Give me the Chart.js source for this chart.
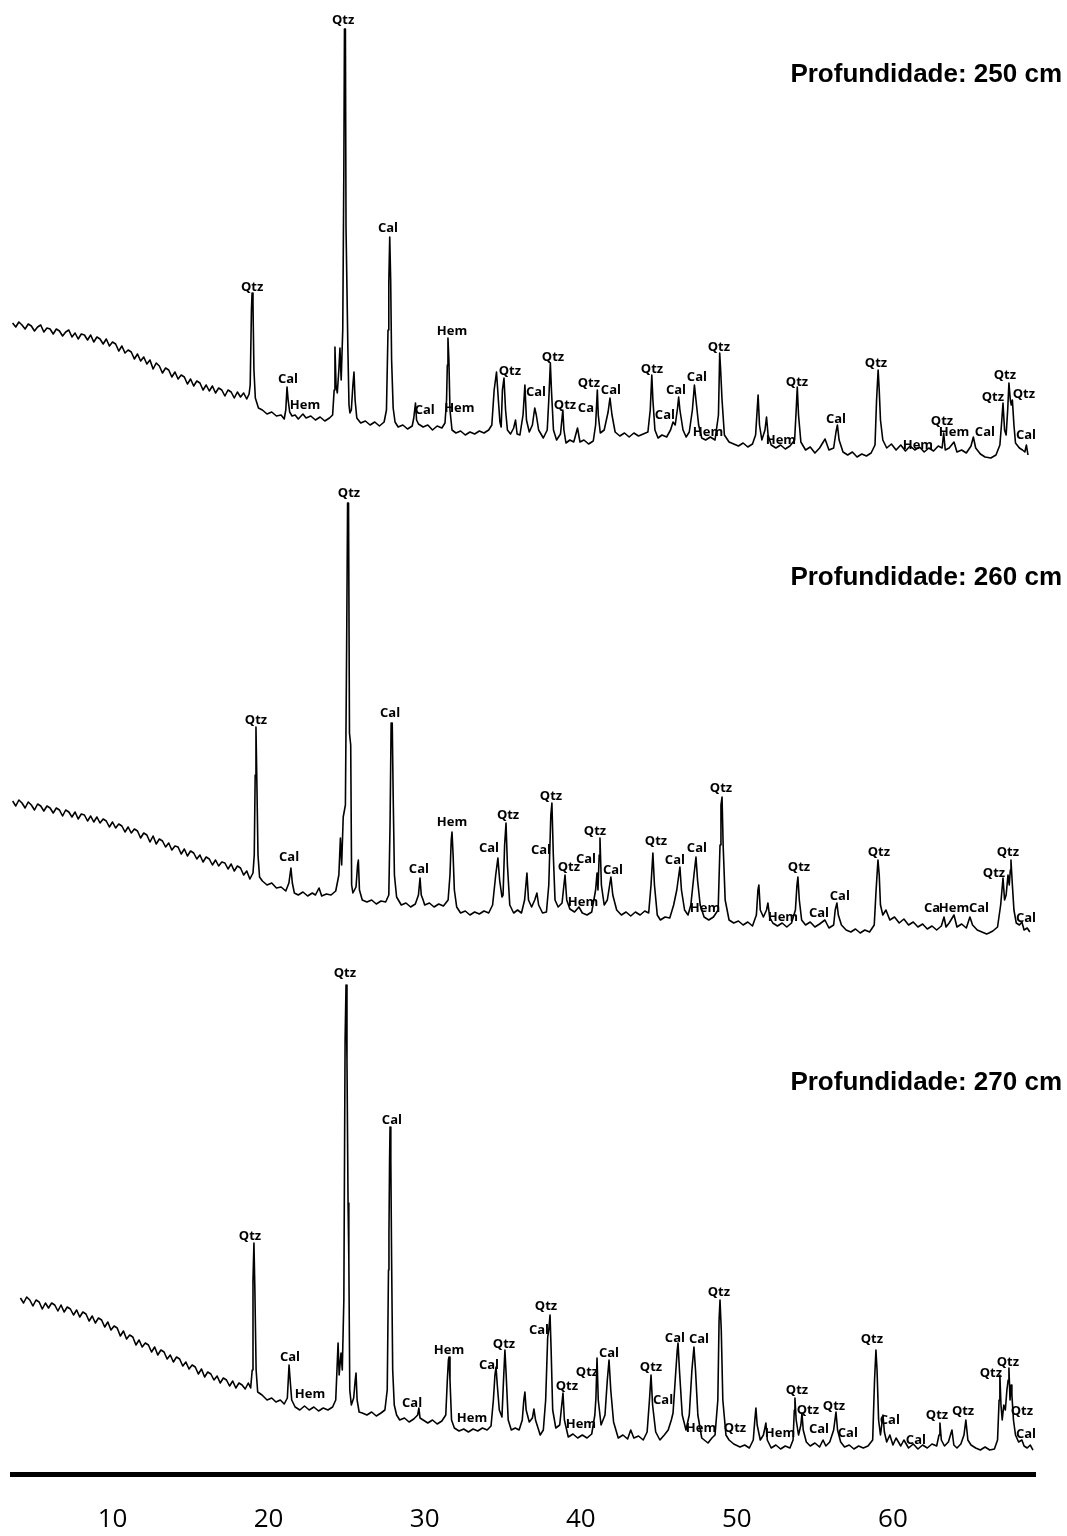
<!DOCTYPE html>
<html>
<head>
<meta charset="utf-8">
<script src="https://cdn.jsdelivr.net/npm/chart.js@4/dist/chart.umd.min.js"></script>
<style>
  html, body { margin: 0; padding: 0; background: #fff; }
  canvas { display: block; }
</style>
</head>
<body>
<canvas id="xrd" width="1067" height="1536"></canvas>
<script>
//----- 2theta ticks -----//
const tickValues = [10, 20, 30, 40, 50, 60];

//----- sample depths (cm) -----//
const depths = [250, 260, 270];

//----- scans: [2theta, counts] -----//
const scan250 = [[3.6,147],[3.8,143],[4.0,148],[4.2,145],[4.4,141],[4.6,146],[4.8,144],[5.0,139],[5.2,143],[5.4,145],[5.6,138],[5.8,142],[6.0,141],[6.2,136],[6.4,141],[6.6,139],[6.8,134],[7.0,138],[7.2,140],[7.4,133],[7.6,137],[7.8,131],[8.0,136],[8.2,135],[8.4,130],[8.6,135],[8.8,128],[9.0,133],[9.2,131],[9.4,126],[9.6,131],[9.8,124],[10.0,128],[10.2,126],[10.4,119],[10.6,124],[10.8,117],[11.0,120],[11.2,118],[11.4,111],[11.6,116],[11.8,109],[12.0,113],[12.2,106],[12.4,110],[12.6,101],[12.8,107],[13.0,104],[13.2,97],[13.4,102],[13.6,100],[13.8,93],[14.0,98],[14.2,91],[14.4,95],[14.6,93],[14.8,86],[15.0,91],[15.2,84],[15.4,89],[15.6,87],[15.8,80],[16.0,85],[16.2,79],[16.4,84],[16.6,77],[16.8,82],[17.0,80],[17.2,74],[17.4,80],[17.6,78],[17.8,72],[18.0,78],[18.2,73],[18.4,77],[18.6,71],[18.75,76],
  [18.82,85],[18.9,160],[18.94,177],[19.0,165],[19.06,100],[19.15,72],[19.35,62],[19.6,60],[19.9,56],[20.2,58],[20.5,54],[20.8,55],[21.0,51],[21.1,60],[21.18,83],[21.25,70],[21.35,58],[21.5,54],[21.7,55],[21.9,51],[22.2,56],[22.4,52],[22.7,54],[23.0,50],[23.3,53],[23.6,49],[23.9,52],[24.1,55],
  [24.2,80],[24.25,123],[24.32,85],[24.4,77],[24.5,100],[24.57,122],[24.65,90],[24.75,140],[24.82,300],[24.86,441],[24.92,441],[24.96,242],[25.02,242],[25.08,120],[25.15,65],[25.21,57],[25.3,60],[25.4,85],[25.47,98],[25.54,70],[25.65,52],[25.9,47],[26.2,49],[26.5,45],[26.8,48],[27.1,44],[27.4,48],
  [27.55,60],[27.65,140],[27.7,187],[27.76,233],[27.82,190],[27.88,110],[27.98,62],[28.1,48],[28.3,43],[28.6,45],[28.9,41],[29.2,44],[29.3,52],[29.41,67],[29.48,50],[29.6,46],[29.9,43],[30.2,45],[30.5,40],[30.8,44],[31.1,42],[31.3,47],
  [31.4,70],[31.45,105],[31.49,132],[31.55,110],[31.62,60],[31.75,40],[32.0,37],[32.3,39],[32.6,35],[32.9,38],[33.2,36],[33.5,39],[33.8,37],[34.1,40],[34.3,45],
  [34.45,80],[34.6,98],[34.72,70],[34.82,48],[34.9,43],[34.98,80],[35.08,92],[35.18,60],[35.3,40],[35.5,36],[35.7,42],[35.82,50],[35.92,36],[36.1,35],[36.3,55],[36.42,85],[36.52,50],[36.7,38],[36.9,45],[37.05,62],[37.15,55],[37.3,40],[37.6,32],[37.85,40],
  [37.95,70],[38.05,107],[38.12,80],[38.25,40],[38.45,30],[38.7,36],[38.85,60],[38.92,40],[39.05,27],[39.3,30],[39.55,28],[39.79,42],[39.95,28],[40.2,30],[40.5,26],[40.8,29],[40.95,45],[41.06,80],[41.12,55],[41.25,37],[41.5,40],[41.75,58],[41.87,72],[42.0,55],[42.2,38],[42.5,34],[42.8,37],[43.1,33],[43.4,37],[43.7,34],[44.0,36],[44.3,38],[44.45,60],[44.55,95],[44.62,70],[44.75,40],[44.95,32],[45.2,35],[45.5,33],[45.75,40],[45.91,48],[46.05,45],[46.2,62],[46.27,73],[46.35,60],[46.55,40],[46.75,33],[46.95,38],[47.15,60],[47.28,85],[47.38,70],[47.55,45],[47.75,32],[48.0,30],[48.3,33],[48.6,30],[48.82,55],[48.9,117],[48.96,100],[49.05,70],[49.2,35],[49.5,28],[49.8,26],[50.1,24],[50.4,27],[50.7,23],[51.0,26],[51.2,35],[51.3,60],[51.36,75],[51.45,45],[51.6,30],[51.8,40],[51.9,53],[52.0,35],[52.2,25],[52.5,22],[52.8,25],[53.1,21],[53.4,24],[53.7,30],[53.8,60],[53.87,83],[53.95,55],[54.1,28],[54.4,20],[54.7,23],[55.0,17],[55.3,22],[55.65,31],[55.9,20],[56.2,22],[56.35,38],[56.44,45],[56.55,30],[56.8,18],[57.1,15],[57.4,18],[57.7,13],[58.0,16],[58.3,14],[58.6,17],[58.85,25],[58.95,70],[59.05,100],[59.12,80],[59.2,50],[59.35,30],[59.6,22],[59.9,26],[60.2,20],[60.5,25],[60.8,19],[61.1,24],[61.4,20],[61.7,23],[62.0,18],[62.3,22],[62.6,19],[62.9,24],[63.15,22],[63.25,37],[63.35,20],[63.6,22],[63.91,28],[64.1,18],[64.4,20],[64.7,17],[65.0,24],[65.15,33],[65.3,22],[65.6,16],[65.9,13],[66.27,12],[66.6,15],[66.85,25],[66.95,45],[67.05,67],[67.15,40],[67.25,35],[67.35,60],[67.43,87],[67.52,70],[67.58,65],[67.65,70],[67.75,45],[67.85,27],[68.1,22],[68.3,20],[68.45,18],[68.55,25],[68.65,15]];

const scan260 = [[3.6,144],[3.8,139],[4.0,145],[4.2,142],[4.4,137],[4.6,143],[4.8,140],[5.0,135],[5.2,141],[5.4,139],[5.6,134],[5.8,139],[6.0,137],[6.2,132],[6.4,137],[6.6,135],[6.8,129],[7.0,135],[7.2,133],[7.4,128],[7.6,133],[7.8,126],[8.0,131],[8.2,130],[8.4,124],[8.6,129],[8.8,123],[9.0,128],[9.2,122],[9.4,126],[9.6,124],[9.8,118],[10.0,123],[10.2,117],[10.4,121],[10.6,119],[10.8,113],[11.0,118],[11.2,112],[11.4,116],[11.6,114],[11.8,107],[12.0,112],[12.2,110],[12.4,103],[12.6,109],[12.8,101],[13.0,106],[13.2,104],[13.4,98],[13.6,102],[13.8,95],[14.0,99],[14.2,98],[14.4,91],[14.6,96],[14.8,89],[15.0,94],[15.2,92],[15.4,86],[15.6,90],[15.8,83],[16.0,88],[16.2,86],[16.4,80],[16.6,85],[16.8,79],[17.0,83],[17.2,82],[17.4,76],[17.6,81],[17.8,74],[18.0,79],[18.2,77],[18.4,70],[18.6,74],[18.8,66],[19.0,72],
  [19.08,90],[19.14,170],[19.19,218],[19.25,160],[19.32,90],[19.42,68],[19.6,64],[19.9,60],[20.2,62],[20.5,57],[20.8,58],[21.1,54],[21.3,62],[21.43,77],[21.52,62],[21.65,52],[21.9,50],[22.2,53],[22.5,49],[22.8,52],[23.0,50],[23.23,57],[23.4,49],[23.7,51],[24.0,50],[24.3,54],
  [24.5,70],[24.6,107],[24.68,80],[24.78,128],[24.92,140],[25.0,300],[25.06,442],[25.12,442],[25.18,212],[25.26,200],[25.32,60],[25.4,52],[25.6,58],[25.7,80],[25.75,85],[25.82,55],[26.0,45],[26.3,43],[26.6,45],[26.9,41],[27.2,44],[27.5,43],[27.7,50],
  [27.78,120],[27.85,222],[27.92,222],[27.98,150],[28.06,70],[28.2,48],[28.5,40],[28.8,42],[29.1,38],[29.4,41],[29.6,50],[29.7,67],[29.78,50],[29.9,45],[30.0,40],[30.3,42],[30.6,38],[30.9,41],[31.2,39],[31.5,45],[31.62,70],[31.7,105],[31.75,113],[31.82,90],[31.9,55],[32.05,38],[32.3,32],[32.6,34],[32.9,30],[33.2,33],[33.5,31],[33.8,34],[34.1,32],[34.35,40],[34.55,70],[34.69,87],[34.8,65],[34.95,48],[35.02,50],[35.12,100],[35.21,122],[35.3,80],[35.45,40],[35.7,32],[35.95,35],[36.2,32],[36.4,45],[36.55,72],[36.65,45],[36.85,38],[37.05,45],[37.19,52],[37.3,40],[37.55,32],[37.8,33],
  [37.95,60],[38.08,130],[38.15,142],[38.24,90],[38.35,45],[38.55,38],[38.8,42],[38.92,60],[38.99,70],[39.1,45],[39.3,36],[39.6,33],[39.88,38],[40.1,32],[40.4,30],[40.7,33],[40.95,55],[41.04,72],[41.1,55],[41.18,90],[41.23,107],[41.32,60],[41.5,40],[41.7,45],[41.85,60],[41.93,68],[42.05,50],[42.3,35],[42.6,30],[42.9,33],[43.2,29],[43.5,33],[43.8,30],[44.1,34],[44.35,32],[44.5,60],[44.62,92],[44.72,60],[44.9,30],[45.1,25],[45.4,28],[45.7,27],[45.95,40],[46.15,55],[46.28,70],[46.35,78],[46.45,55],[46.65,35],[46.87,30],[47.05,40],[47.25,70],[47.38,88],[47.48,65],[47.65,40],[47.9,28],[48.2,25],[48.5,28],[48.8,35],[48.92,100],[48.98,140],[49.05,148],[49.12,100],[49.25,45],[49.5,25],[49.8,22],[50.1,24],[50.4,20],[50.7,23],[51.0,19],[51.25,30],[51.35,55],[51.41,60],[51.5,35],[51.7,28],[51.9,35],[51.99,42],[52.1,28],[52.3,22],[52.6,19],[52.9,22],[53.2,18],[53.5,22],[53.75,35],[53.85,60],[53.91,68],[54.0,45],[54.15,25],[54.4,20],[54.7,23],[55.0,18],[55.3,21],[55.64,25],[55.9,17],[56.2,20],[56.3,35],[56.41,42],[56.5,30],[56.7,20],[57.0,15],[57.3,13],[57.6,16],[57.9,12],[58.2,15],[58.5,13],[58.8,20],[58.92,55],[59.04,85],[59.12,70],[59.2,40],[59.35,30],[59.55,35],[59.8,25],[60.1,28],[60.4,22],[60.7,26],[61.0,20],[61.3,23],[61.6,18],[61.9,21],[62.2,16],[62.5,19],[62.8,15],[63.1,19],[63.27,28],[63.4,18],[63.6,22],[63.91,30],[64.1,18],[64.4,21],[64.7,17],[64.93,28],[65.1,20],[65.4,15],[65.7,13],[66.0,11],[66.15,12],[66.4,14],[66.7,18],[66.9,40],[67.05,67],[67.15,45],[67.25,50],[67.37,70],[67.45,60],[67.52,75],[67.56,85],[67.65,60],[67.75,35],[67.9,22],[68.1,20],[68.26,23],[68.4,15],[68.6,17],[68.77,13]];

const scan270 = [[4.1,162],[4.3,157],[4.5,163],[4.7,160],[4.9,154],[5.1,160],[5.3,158],[5.5,151],[5.7,157],[5.9,152],[6.1,157],[6.3,155],[6.5,149],[6.7,155],[6.9,148],[7.1,153],[7.3,151],[7.5,145],[7.7,150],[7.9,143],[8.1,148],[8.3,146],[8.5,139],[8.7,144],[8.9,137],[9.1,142],[9.3,140],[9.5,133],[9.7,138],[9.9,130],[10.1,134],[10.3,132],[10.5,124],[10.7,129],[10.9,121],[11.1,125],[11.3,123],[11.5,115],[11.7,120],[11.9,113],[12.1,117],[12.3,115],[12.5,108],[12.7,113],[12.9,105],[13.1,110],[13.3,108],[13.5,101],[13.7,105],[13.9,98],[14.1,103],[14.3,101],[14.5,94],[14.7,98],[14.9,91],[15.1,95],[15.3,93],[15.5,86],[15.7,91],[15.9,83],[16.1,88],[16.3,86],[16.5,80],[16.7,84],[16.9,77],[17.1,82],[17.3,80],[17.5,74],[17.7,79],[17.9,72],[18.1,77],[18.3,75],[18.5,71],[18.7,77],[18.85,72],
  [18.95,90],[19.0,180],[19.06,217],[19.12,170],[19.2,90],[19.3,68],[19.58,65],[19.9,60],[20.2,62],[20.47,58],[20.75,60],[21.0,56],[21.2,62],[21.31,95],[21.38,80],[21.48,60],[21.7,53],[22.0,50],[22.3,54],[22.6,50],[22.9,53],[23.2,49],[23.5,52],[23.8,50],[24.1,53],[24.3,60],
  [24.38,90],[24.45,117],[24.52,85],[24.6,100],[24.64,107],[24.72,90],[24.82,160],[24.9,420],[24.96,475],[25.02,400],[25.09,257],[25.14,200],[25.2,70],[25.3,55],[25.45,62],[25.55,80],[25.6,87],[25.67,60],[25.8,48],[26.0,47],[26.3,45],[26.6,48],[26.9,44],[27.2,47],[27.45,50],
  [27.6,70],[27.68,190],[27.71,227],[27.75,300],[27.78,333],[27.83,300],[27.88,200],[27.95,90],[28.05,55],[28.2,45],[28.4,40],[28.7,42],[29.0,38],[29.3,41],[29.55,45],[29.63,52],[29.7,42],[29.9,40],[30.2,37],[30.5,40],[30.8,36],[31.1,39],[31.35,45],[31.45,80],[31.52,100],[31.56,103],[31.62,80],[31.72,40],[31.9,32],[32.2,29],[32.5,31],[32.8,28],[33.1,31],[33.4,29],[33.7,32],[34.0,30],[34.25,34],[34.4,60],[34.5,85],[34.57,93],[34.65,75],[34.78,50],[34.95,43],[35.05,80],[35.14,110],[35.22,85],[35.35,40],[35.55,30],[35.8,32],[36.05,30],[36.25,40],[36.35,60],[36.42,68],[36.5,50],[36.7,38],[36.9,42],[37.0,51],[37.1,40],[37.4,25],[37.6,30],
  [37.75,60],[37.88,123],[37.95,130],[38.03,145],[38.1,110],[38.2,50],[38.4,32],[38.65,35],[38.78,55],[38.86,67],[38.95,40],[39.2,23],[39.5,26],[39.8,22],[40.1,25],[40.4,22],[40.7,26],[40.9,45],[40.97,62],[41.04,102],[41.12,60],[41.3,35],[41.55,45],[41.7,80],[41.81,100],[41.92,70],[42.1,38],[42.4,22],[42.7,25],[43.0,21],[43.2,30],[43.4,22],[43.7,24],[44.0,20],[44.25,28],[44.4,60],[44.5,85],[44.6,55],[44.8,28],[45.07,20],[45.35,25],[45.6,30],[45.8,40],[45.91,47],[46.05,80],[46.18,110],[46.23,117],[46.32,90],[46.5,45],[46.74,30],[46.95,45],[47.12,90],[47.25,113],[47.35,90],[47.5,45],[47.75,22],[48.15,17],[48.4,22],[48.6,25],[48.78,60],[48.86,140],[48.92,160],[49.0,130],[49.1,60],[49.3,25],[49.5,20],[49.8,16],[50.2,13],[50.5,15],[50.8,12],[51.05,20],[51.15,40],[51.22,52],[51.3,35],[51.5,20],[51.7,25],[51.86,37],[51.95,20],[52.2,12],[52.5,15],[52.8,11],[53.1,14],[53.4,12],[53.6,20],[53.68,50],[53.72,62],[53.8,40],[53.95,25],[54.1,35],[54.17,47],[54.25,30],[54.45,18],[54.7,14],[55.0,17],[55.3,13],[55.52,20],[55.7,14],[55.95,18],[56.2,30],[56.35,48],[56.45,30],[56.65,18],[56.9,13],[57.2,15],[57.5,11],[57.8,14],[58.1,12],[58.4,14],[58.7,20],[58.82,80],[58.91,110],[58.98,90],[59.08,40],[59.2,25],[59.36,45],[59.45,28],[59.6,18],[59.8,25],[60.0,15],[60.2,22],[60.5,14],[60.7,20],[61.0,12],[61.3,16],[61.6,11],[61.9,15],[62.2,12],[62.5,16],[62.8,14],[62.95,25],[63.01,37],[63.1,20],[63.3,14],[63.55,18],[63.78,30],[63.9,15],[64.1,12],[64.35,16],[64.55,25],[64.67,40],[64.8,20],[65.0,15],[65.3,12],[65.6,10],[65.9,13],[66.2,10],[66.5,11],[66.7,20],[66.8,60],[66.85,85],[66.92,55],[67.0,40],[67.1,55],[67.2,50],[67.3,70],[67.38,80],[67.43,92],[67.5,60],[67.57,75],[67.62,65],[67.72,40],[67.85,25],[68.05,18],[68.26,20],[68.4,14],[68.6,12],[68.8,15],[68.97,10]];

//----- phase tags: [phase, 2theta, counts level of the tag] -----//
const tags250 = [['Qtz',24.77,450],['Qtz',18.94,183],['Cal',27.65,242],['Cal',21.24,91],['Hem',22.33,65],['Hem',31.75,139],['Cal',30.0,60],['Hem',32.22,62],['Qtz',35.46,99],['Cal',37.13,78],['Qtz',38.22,113],['Qtz',38.99,65],['Ca',40.33,62],['Qtz',40.52,87],['Cal',41.93,80],['Qtz',44.56,101],['Cal',45.39,55],['Cal',46.10,80],['Cal',47.44,93],['Hem',48.15,38],['Qtz',48.85,123],['Hem',52.82,30],['Qtz',53.85,88],['Cal',56.35,51],['Qtz',58.91,107],['Hem',61.60,25],['Qtz',63.14,49],['Hem',63.91,38],['Cal',65.89,38],['Qtz',66.40,73],['Qtz',67.17,95],['Qtz',68.39,76],['Cal',68.52,35]];
const tags260 = [['Qtz',25.15,452],['Qtz',19.19,225],['Cal',27.78,232],['Cal',21.31,88],['Hem',31.75,123],['Cal',29.63,76],['Cal',34.12,97],['Qtz',35.34,130],['Cal',37.45,95],['Qtz',38.09,149],['Qtz',39.24,78],['Hem',40.14,43],['Cal',40.33,86],['Qtz',40.91,114],['Cal',42.06,75],['Qtz',44.82,104],['Cal',46.03,85],['Cal',47.44,97],['Hem',47.96,37],['Qtz',48.98,157],['Hem',52.95,28],['Qtz',53.98,78],['Cal',55.26,32],['Cal',56.60,49],['Qtz',59.10,93],['Ca',62.5,37],['Hem',63.91,37],['Cal',65.51,37],['Qtz',66.47,72],['Qtz',67.36,93],['Cal',68.52,27]];
const tags270 = [['Qtz',24.89,487],['Qtz',18.81,224],['Cal',27.90,340],['Cal',21.37,103],['Hem',22.65,66],['Hem',31.56,110],['Cal',29.19,57],['Hem',33.03,42],['Cal',34.12,95],['Qtz',35.08,116],['Cal',37.32,130],['Qtz',37.77,154],['Qtz',39.11,74],['Hem',40.01,36],['Qtz',40.40,88],['Cal',41.81,107],['Qtz',44.50,93],['Cal',45.27,60],['Cal',46.03,122],['Cal',47.57,121],['Hem',47.70,32],['Qtz',49.88,32],['Qtz',48.85,168],['Hem',52.76,27],['Qtz',53.85,70],['Qtz',54.55,50],['Cal',55.26,31],['Qtz',56.22,54],['Cal',57.11,27],['Qtz',58.65,121],['Cal',59.80,40],['Cal',61.47,20],['Qtz',62.82,45],['Qtz',64.49,49],['Qtz',66.27,87],['Qtz',67.36,98],['Qtz',68.26,49],['Cal',68.52,26]];

//----- vertical stacking of the three scans -----//
const stackOffsets = [1004, 529, 14];
const scans = [scan250, scan260, scan270];
const tagSets = [tags250, tags260, tags270];
const titleRows = [75, 578, 1083];

const datasets = scans.map((scan, i) => ({
    label: 'Profundidade: ' + depths[i] + ' cm',
    data: scan.map(p => ({ x: p[0], y: p[1] + stackOffsets[i] })),
    borderColor: '#000',
    borderWidth: 1.6,
    borderJoinStyle: 'round',
    pointRadius: 0,
    tension: 0,
    fill: false
}));

//----- phase names above peaks + depth titles -----//
const annotate = {
    id: 'annotate',
    afterDatasetsDraw(chart) {
        const c = chart.ctx, xs = chart.scales.x, ys = chart.scales.y;
        c.save();
        c.fillStyle = '#000';
        c.textAlign = 'center';
        c.textBaseline = 'middle';
        c.font = 'bold 13px "Open Sans"';
        tagSets.forEach((tags, i) => {
            tags.forEach(t => {
                c.fillText(t[0], xs.getPixelForValue(t[1]), ys.getPixelForValue(t[2] + stackOffsets[i]));
            });
        });
        c.textAlign = 'right';
        c.font = 'bold 26px "Liberation Sans"';
        depths.forEach((d, i) => {
            c.fillText('Profundidade: ' + d + ' cm', 1062, titleRows[i]);
        });
        c.restore();
    }
};

const ctx = document.getElementById('xrd').getContext('2d');
new Chart(ctx, {
    type: 'line',
    data: { datasets: datasets },
    options: {
        responsive: false,
        animation: false,
        events: [],
        layout: { padding: { left: 12, right: 32, top: 0, bottom: 0 } },
        plugins: { legend: { display: false }, tooltip: { enabled: false } },
        scales: {
            x: {
                type: 'linear',
                min: 3.56,
                max: 69.1,
                afterBuildTicks: s => { s.ticks = tickValues.map(v => ({ value: v })); },
                afterFit: s => { s.height = 62; },
                grid: { display: false, drawTicks: false },
                border: { display: true, width: 5, color: '#000' },
                ticks: { color: '#000', padding: 30, font: { family: 'Open Sans', size: 26 } }
            },
            y: { display: false, min: 0, max: 1474 }
        }
    },
    plugins: [annotate]
});
</script>
</body>
</html>
